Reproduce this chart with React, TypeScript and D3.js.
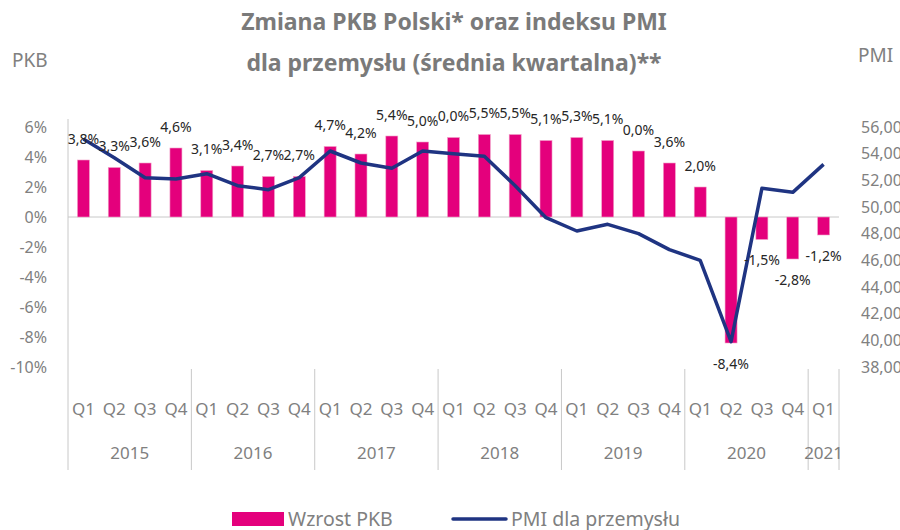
import React, { useEffect, useRef } from 'react';
import * as d3 from 'd3';

const quarters = [
  'Q1', 'Q2', 'Q3', 'Q4', 'Q1', 'Q2', 'Q3', 'Q4', 'Q1', 'Q2', 'Q3', 'Q4',
  'Q1', 'Q2', 'Q3', 'Q4', 'Q1', 'Q2', 'Q3', 'Q4', 'Q1', 'Q2', 'Q3', 'Q4', 'Q1',
];
const years = ['2015', '2016', '2017', '2018', '2019', '2020', '2021'];
const quartersPerYear = [4, 4, 4, 4, 4, 4, 1];

const gdp = [
  3.8, 3.3, 3.6, 4.6, 3.1, 3.4, 2.7, 2.7, 4.7, 4.2, 5.4, 5.0,
  5.3, 5.5, 5.5, 5.1, 5.3, 5.1, 4.4, 3.6, 2.0, -8.4, -1.5, -2.8, -1.2,
];
const gdpLabels = [
  '3,8%', '3,3%', '3,6%', '4,6%', '3,1%', '3,4%', '2,7%', '2,7%', '4,7%', '4,2%', '5,4%', '5,0%',
  '0,0%', '5,5%', '5,5%', '5,1%', '5,3%', '5,1%', '0,0%', '3,6%', '2,0%', '-8,4%', '-1,5%', '-2,8%', '-1,2%',
];
const pmi = [
  55.1, 53.7, 52.2, 52.1, 52.5, 51.6, 51.3, 52.2, 54.2, 53.3, 52.9, 54.2,
  54.0, 53.8, 51.6, 49.2, 48.2, 48.7, 48.0, 46.8, 46.0, 39.9, 51.4, 51.1, 53.2,
];
const leftTicks = [6, 4, 2, 0, -2, -4, -6, -8, -10];
const rightTicks = [56, 54, 52, 50, 48, 46, 44, 42, 40, 38];

const W = 900;
const H = 530;
const GRAY = '#808080';
const PINK = '#e4007c';
const NAVY = '#1f3482';
const FONT = '"Noto Sans", sans-serif';

export default function App() {
  const svgRef = useRef<SVGSVGElement>(null);

  useEffect(() => {
    document.body.style.margin = '0';
    if (!svgRef.current) return;
    const svg = d3.select(svgRef.current);
    svg.selectAll('*').remove();

    const left = 68;
    const right = 839;
    const top = 127;
    const bottom = 367;

    const idx = quarters.map((_, i) => String(i));
    const x = d3.scaleBand().domain(idx).range([left, right]).paddingInner(0).paddingOuter(0);
    const yL = d3.scaleLinear().domain([-10, 6]).range([bottom, top]);
    const yR = d3.scaleLinear().domain([38, 56]).range([bottom, top]);
    const cx = (i: number) => (x(String(i)) || 0) + x.bandwidth() / 2;
    const barW = 12;

    // Title
    svg.append('text').attr('x', 454).attr('y', 30).attr('text-anchor', 'middle')
      .style('font-family', FONT).style('font-size', '23px').style('font-weight', 700)
      .style('fill', '#7a7a7a').text('Zmiana PKB Polski* oraz indeksu PMI');
    svg.append('text').attr('x', 454).attr('y', 71).attr('text-anchor', 'middle')
      .style('font-family', FONT).style('font-size', '23px').style('font-weight', 700)
      .style('fill', '#7a7a7a').text('dla przemysłu (średnia kwartalna)**');

    svg.append('text').attr('x', 12).attr('y', 67)
      .style('font-family', FONT).style('font-size', '19px').style('fill', GRAY).text('PKB');
    svg.append('text').attr('x', 858).attr('y', 62)
      .style('font-family', FONT).style('font-size', '19px').style('fill', GRAY).text('PMI');

    // Left axis labels
    svg.append('g').selectAll('text').data(leftTicks).enter().append('text')
      .attr('x', 47).attr('y', d => yL(d)).attr('dy', '0.35em').attr('text-anchor', 'end')
      .style('font-family', FONT).style('font-size', '16px').style('fill', GRAY)
      .text(d => `${d}%`);

    // Right axis labels
    svg.append('g').selectAll('text').data(rightTicks).enter().append('text')
      .attr('x', 861).attr('y', d => yR(d)).attr('dy', '0.35em').attr('text-anchor', 'start')
      .style('font-family', FONT).style('font-size', '16px').style('fill', GRAY)
      .text(d => `${d},00`);

    // Axis lines
    svg.append('line').attr('x1', left).attr('x2', left).attr('y1', 119).attr('y2', 470)
      .style('stroke', '#c8c8c8').style('stroke-width', 1);
    svg.append('line').attr('x1', left).attr('x2', right).attr('y1', yL(0)).attr('y2', yL(0))
      .style('stroke', '#c8c8c8').style('stroke-width', 1);

    // Year dividers
    let acc = 0;
    const bounds: number[] = [0];
    quartersPerYear.forEach(n => { acc += n; bounds.push(acc); });
    svg.append('g').selectAll('line').data(bounds.slice(1)).enter().append('line')
      .attr('x1', d => left + d * x.bandwidth()).attr('x2', d => left + d * x.bandwidth())
      .attr('y1', bottom + 2).attr('y2', 470)
      .style('stroke', '#c8c8c8').style('stroke-width', 1);

    // Bars
    svg.append('g').selectAll('rect').data(gdp).enter().append('rect')
      .attr('x', (_, i) => cx(i) - barW / 2)
      .attr('width', barW)
      .attr('y', d => (d >= 0 ? yL(d) : yL(0)))
      .attr('height', d => Math.abs(yL(d) - yL(0)))
      .style('fill', PINK)
      .style('stroke', '#f2a0c8').style('stroke-width', 0.6);

    // PMI line
    const line = d3.line<number>().x((_, i) => cx(i)).y(d => yR(d));
    svg.append('path').datum(pmi).attr('d', line)
      .style('fill', 'none').style('stroke', NAVY).style('stroke-width', 3.5)
      .style('stroke-linejoin', 'round');

    // Bar labels
    svg.append('g').selectAll('text').data(gdp).enter().append('text')
      .attr('x', (_, i) => cx(i))
      .attr('y', d => (d >= 0 ? yL(d) - 21 : yL(d) + 21))
      .attr('dy', '0.35em').attr('text-anchor', 'middle')
      .style('font-family', FONT).style('font-size', '14px').style('fill', '#262626')
      .text((_, i) => gdpLabels[i]);

    // Quarter labels
    svg.append('g').selectAll('text').data(quarters).enter().append('text')
      .attr('x', (_, i) => cx(i)).attr('y', 409).attr('dy', '0.35em').attr('text-anchor', 'middle')
      .style('font-family', FONT).style('font-size', '17px').style('fill', GRAY)
      .text(d => d);

    // Year labels
    svg.append('g').selectAll('text').data(years).enter().append('text')
      .attr('x', (_, i) => left + ((bounds[i] + bounds[i + 1]) / 2) * x.bandwidth())
      .attr('y', 453).attr('dy', '0.35em').attr('text-anchor', 'middle')
      .style('font-family', FONT).style('font-size', '17px').style('fill', GRAY)
      .text(d => d);

    // Legend
    const lg = svg.append('g');
    lg.append('rect').attr('x', 232).attr('y', 512).attr('width', 52).attr('height', 14).style('fill', PINK);
    lg.append('text').attr('x', 288).attr('y', 519).attr('dy', '0.35em')
      .style('font-family', FONT).style('font-size', '19.5px').style('fill', GRAY).text('Wzrost PKB');
    lg.append('line').attr('x1', 453).attr('x2', 506).attr('y1', 519).attr('y2', 519)
      .style('stroke', NAVY).style('stroke-width', 3.5).style('stroke-linecap', 'round');
    lg.append('text').attr('x', 511).attr('y', 519).attr('dy', '0.35em')
      .style('font-family', FONT).style('font-size', '19.5px').style('fill', GRAY).text('PMI dla przemysłu');
  }, []);

  return <svg ref={svgRef} width={W} height={H} style={{ display: 'block' }} />;
}
